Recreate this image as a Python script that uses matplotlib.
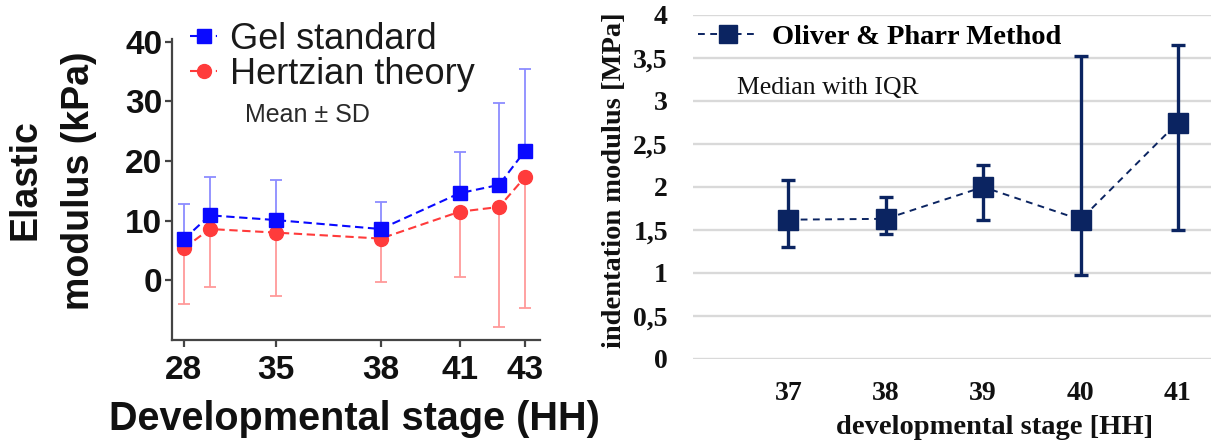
import matplotlib
matplotlib.use("Agg")
import matplotlib.pyplot as plt

# ---------------- Left panel: elastic modulus, mean ± SD ----------------
left_stages = [28, 30, 35, 38, 41, 42, 43]
# horizontal placement of each stage group on the stage axis
left_pos = [0.0, 0.76, 2.70, 5.77, 8.08, 9.24, 10.0]
left_tick_stages = [28, 35, 38, 41, 43]

gel_mean = [6.9, 10.9, 10.1, 8.6, 14.6, 16.0, 21.7]
gel_sd = [5.9, 6.4, 6.8, 4.5, 6.9, 13.8, 13.7]
hertz_mean = [5.4, 8.6, 8.0, 7.0, 11.5, 12.3, 17.3]
hertz_sd = [9.4, 9.8, 10.6, 7.2, 11.0, 20.2, 21.9]
left_yticks = [0, 10, 20, 30, 40]

# ---------------- Right panel: indentation modulus, median with IQR ----------------
right_stages = ["37", "38", "39", "40", "41"]
op_median = [1.62, 1.63, 2.00, 1.62, 2.75]
op_q1 = [1.30, 1.45, 1.62, 0.98, 1.50]
op_q3 = [2.08, 1.88, 2.26, 3.52, 3.65]
right_yticks = [0, 0.5, 1, 1.5, 2, 2.5, 3, 3.5, 4]

W, H = 1211, 445
fig = plt.figure(figsize=(W / 100, H / 100), dpi=100)
fig.patch.set_facecolor("white")

SANS = "Liberation Sans"
SERIF = "Liberation Serif"

# ======== left axes ========
axL = fig.add_axes([172 / W, 1 - 340 / H, (540 - 172) / W, (340 - 39.3) / H])
axL.set_xlim(-0.35, 10.44)
axL.set_ylim(-10, 40.4)

blue, blue_err = "#0a0aff", "#8c8cff"
red, red_err = "#ff3b3b", "#ff9a9a"

# error bars: Gel standard upward, Hertzian theory downward
axL.errorbar(left_pos, hertz_mean, yerr=[hertz_sd, [0] * len(hertz_sd)], fmt="none",
             ecolor=red_err, elinewidth=1.3, capsize=4.5, capthick=1.3, zorder=2)
axL.errorbar(left_pos, gel_mean, yerr=[[0] * len(gel_sd), gel_sd], fmt="none",
             ecolor=blue_err, elinewidth=1.3, capsize=4.5, capthick=1.3, zorder=2)

lg, = axL.plot(left_pos, gel_mean, color=blue, lw=1.5, dashes=(4, 2.2), marker="s",
               ms=9.5, mec=blue, mfc=blue, zorder=4, label="Gel standard")
lh, = axL.plot(left_pos, hertz_mean, color=red, lw=1.5, dashes=(4, 2.2), marker="o",
               ms=10, mec=red, mfc=red, zorder=3, label="Hertzian theory")

for s in ["top", "right"]:
    axL.spines[s].set_visible(False)
for s in ["left", "bottom"]:
    axL.spines[s].set_color("#444444")
    axL.spines[s].set_linewidth(1.6)

tick_pos = [left_pos[left_stages.index(s)] for s in left_tick_stages]
axL.set_xticks(tick_pos)
axL.set_xticklabels([str(s) for s in left_tick_stages])
axL.set_yticks(left_yticks)
axL.set_yticklabels([str(v) for v in left_yticks])
axL.tick_params(axis="both", direction="out", length=5, width=1.6, color="#444444",
                labelcolor="#111111")
axL.tick_params(axis="x", pad=6)
axL.tick_params(axis="y", pad=2)
for lab in axL.get_xticklabels() + axL.get_yticklabels():
    lab.set_fontfamily(SANS)
    lab.set_fontweight("bold")
    lab.set_fontsize(24)

fig.text(354 / W, 1 - 419 / H, "Developmental stage (HH)", ha="center", va="center",
         fontsize=28.5, fontweight="bold", family=SANS, color="#111111")
fig.text(25 / W, 1 - 180 / H, "Elastic", rotation=90, ha="center", va="center",
         fontsize=27, fontweight="bold", family=SANS, color="#111111")
fig.text(79 / W, 1 - 181 / H, "modulus (kPa)", rotation=90, ha="center", va="center",
         fontsize=27, fontweight="bold", family=SANS, color="#111111")

legL = axL.legend(handles=[lg, lh], loc="upper left", bbox_to_anchor=(190 / W, 1 - 22 / H),
                  bbox_transform=fig.transFigure, frameon=False, handlelength=0.75,
                  handletextpad=0.35, labelspacing=0.0, borderpad=0, borderaxespad=0,
                  prop={"family": SANS, "size": 26})
for t in legL.get_texts():
    t.set_color("#1a1a1a")

fig.text(245 / W, 1 - 115 / H, "Mean \u00b1 SD", ha="left", va="center",
         fontsize=18, family=SANS, color="#2a2a2a")

# ======== right axes ========
navy = "#0b2461"
axR = fig.add_axes([693 / W, 1 - 359 / H, 1 - 693 / W, (359 - 15) / H])
xr = list(range(len(right_stages)))
axR.set_xlim(-0.98, 4.34)
axR.set_ylim(0, 4)

lower = [m - q for m, q in zip(op_median, op_q1)]
upper = [q - m for m, q in zip(op_median, op_q3)]
axR.errorbar(xr, op_median, yerr=[lower, upper], fmt="none", ecolor=navy,
             elinewidth=2.4, capsize=5, capthick=2.4, zorder=3, clip_on=False)
lop, = axR.plot(xr, op_median, color=navy, lw=1.4, dashes=(3.5, 2.8), marker="s",
                ms=15, mfc=navy, mec=navy, zorder=4, clip_on=False,
                label="Oliver & Pharr Method")

for s in axR.spines.values():
    s.set_visible(False)
axR.set_yticks(right_yticks)
axR.set_yticklabels([("%g" % v).replace(".", ",") for v in right_yticks])
axR.set_xticks(xr)
axR.set_xticklabels(right_stages)
axR.yaxis.grid(True, color="#d9d9d9", lw=1.7)
axR.set_axisbelow(True)
axR.tick_params(axis="both", length=0, labelcolor="#111111")
axR.tick_params(axis="y", pad=18)
axR.tick_params(axis="x", pad=16)
for lab in axR.get_xticklabels() + axR.get_yticklabels():
    lab.set_fontfamily(SERIF)
    lab.set_fontweight("bold")
    lab.set_fontsize(20)

fig.text(995 / W, 1 - 427 / H, "developmental stage [HH]", ha="center", va="center",
         fontsize=20.5, fontweight="bold", family=SERIF, color="#111111")
fig.text(615 / W, 1 - 180 / H, "indentation modulus [MPa]", rotation=90, ha="center",
         va="center", fontsize=20.5, fontweight="bold", family=SERIF, color="#111111")

legR = axR.legend(handles=[lop], loc="upper left", bbox_to_anchor=(698 / W, 1 - 24 / H),
                  bbox_transform=fig.transFigure, frameon=False, handlelength=2.1,
                  handletextpad=0.5, borderpad=0, borderaxespad=0, markerscale=0.85,
                  prop={"family": SERIF, "size": 20.5, "weight": "bold"})

fig.text(737 / W, 1 - 88 / H, "Median with IQR", ha="left", va="center",
         fontsize=18.5, family=SERIF, color="#111111")

fig.savefig("out.png", dpi=100, facecolor="white")
